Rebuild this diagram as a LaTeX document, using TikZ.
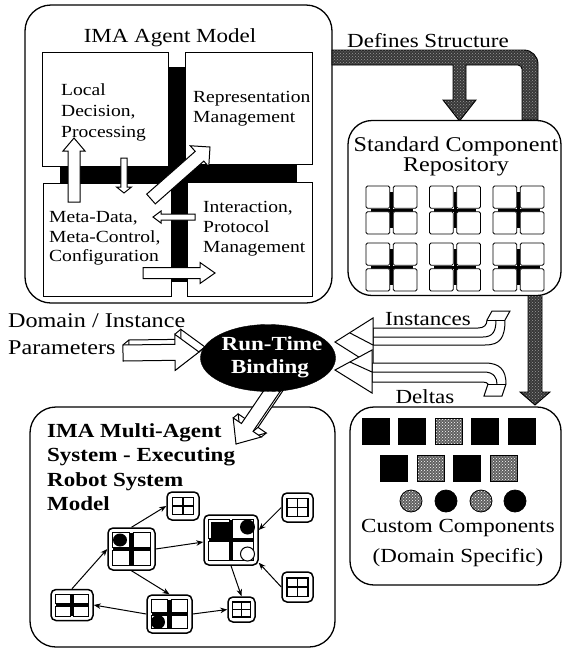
\documentclass[tikz,border=0pt]{standalone}
\usepackage{fontspec}
\setmainfont{Liberation Serif}[FakeStretch=1.15]
\usetikzlibrary{calc,arrows.meta,patterns,shapes.geometric}

\tikzset{
  frame/.style={draw, line width=1.3pt, rounded corners=26pt, inner sep=0pt},
  panel/.style={draw, fill=white, line width=1pt, inner sep=0pt},
  blk/.style={draw, fill=white, line width=1pt, line join=miter},
  thin3d/.style={line width=1pt},
  band/.style={draw, line width=0.9pt, preaction={fill=black!78}, pattern=crosshatch dots, pattern color=black!40},
  lbl/.style={inner sep=0pt, font=\fontsize{20}{21}\selectfont},
  biglbl/.style={inner sep=0pt, font=\fontsize{21}{22}\selectfont},
  paramlbl/.style={inner sep=0pt, align=left, anchor=north west, font=\fontsize{21}{27}\selectfont},
  smalll/.style={inner sep=0pt, align=left, anchor=north west, font=\fontsize{17}{20}\selectfont},
  boldl/.style={inner sep=0pt, align=left, anchor=north west, font=\fontsize{20}{24.5}\selectfont\bfseries},
  agentbox/.style={draw, fill=white, line width=1.5pt, rounded corners=5pt, inner sep=0pt},
  cell/.style={draw, fill=white, line width=0.8pt},
  chip/.style={draw, fill=black, line width=0.8pt},
  mottled/.style={draw, line width=0.8pt, preaction={fill=black!62}, pattern=crosshatch dots, pattern color=white},
  link/.style={line width=1pt, -{Stealth[length=7pt,width=5.5pt]}},
}

% corner points of a block arrow from #1 to the tip #2
\newcommand{\arrowpts}[5]{%
  \coordinate (q-a) at (#1);
  \coordinate (q-b) at (#2);
  \coordinate (q-h) at ($(q-b)!#5!(q-a)$);
  \coordinate (q1) at ($(q-a)!#3!90:(q-b)$);
  \coordinate (q2) at ($(q-h)!#3!90:(q-b)$);
  \coordinate (q3) at ($(q-h)!#4!90:(q-b)$);
  \coordinate (q5) at ($(q-h)!#4!-90:(q-b)$);
  \coordinate (q6) at ($(q-h)!#3!-90:(q-b)$);
  \coordinate (q7) at ($(q-a)!#3!-90:(q-b)$);
}
\newcommand{\flatarrow}[5]{%
  \arrowpts{#1}{#2}{#3}{#4}{#5}
  \draw[blk] (q1) -- (q2) -- (q3) -- (q-b) -- (q5) -- (q6) -- (q7) -- cycle;
}
% block arrow with a visible depth (#6, #7 = offset of the back face)
\newcommand{\solidarrow}[7]{%
  \arrowpts{#1}{#2}{#3}{#4}{#5}
  \draw[blk, transform canvas={xshift=#6, yshift=#7}] (q1) -- (q2) -- (q3) -- (q-b) -- (q5) -- (q6) -- (q7) -- cycle;
  \foreach \c in {q1,q2,q3,q-b,q5,q6,q7}
    {\draw[thin3d] (\c) -- ([xshift=#6, yshift=#7]\c);}
  \draw[blk] (q1) -- (q2) -- (q3) -- (q-b) -- (q5) -- (q6) -- (q7) -- cycle;
}
% agent with four cells
\newcommand{\quadnode}[5]{%
  \node[agentbox, minimum width=#4pt, minimum height=#5pt] (#1) at (#2,#3) {};
  \pgfmathsetmacro{\qx}{#4/2-4.5}
  \pgfmathsetmacro{\qy}{#5/2-4.5}
  \draw[line width=3pt] ({#2-\qx},#3) -- ({#2+\qx},#3) (#2,{#3-\qy}) -- (#2,{#3+\qy});
  \draw[cell] ({#2-\qx},{#3-\qy}) rectangle ({#2-1.8},{#3-1.8});
  \draw[cell] ({#2+1.8},{#3-\qy}) rectangle ({#2+\qx},{#3-1.8});
  \draw[cell] ({#2-\qx},{#3+1.8}) rectangle ({#2-1.8},{#3+\qy});
  \draw[cell] ({#2+1.8},{#3+1.8}) rectangle ({#2+\qx},{#3+\qy});
}
% small agent with a grid glyph
\newcommand{\mininode}[5]{%
  \node[agentbox, minimum width=#4pt, minimum height=#5pt] (#1) at (#2,#3) {};
  \pgfmathsetmacro{\qx}{#4*0.33}
  \pgfmathsetmacro{\qy}{#5*0.31}
  \draw[line width=1.6pt] ({#2-\qx},{#3-\qy}) rectangle ({#2+\qx},{#3+\qy})
     ({#2-\qx},#3) -- ({#2+\qx},#3) (#2,{#3-\qy}) -- (#2,{#3+\qy});
}
% standard component glyph
\newcommand{\repoicon}[2]{%
  \draw[line width=3pt] ({#1-21},#2) -- ({#1+21},#2) (#1,{#2-18}) -- (#1,{#2+18});
  \foreach \sx/\sy in {-1/-1,1/-1,-1/1,1/1}
    {\draw[cell, rounded corners=1.5pt] ({#1+\sx*1.7},{#2+\sy*1.7}) rectangle ({#1+\sx*25.5},{#2+\sy*24});}
}

\begin{document}
\begin{tikzpicture}[x=1pt,y=-1pt]
\useasboundingbox (0,0) rectangle (563,649);

% ---------------- agent model ----------------
\node[frame, minimum width=307pt, minimum height=298pt] (agent) at (178.5,154) {};
\node[lbl, anchor=base] (agenttitle) at (170,42) {IMA Agent Model};

\fill (168,67) rectangle (187,282);
\fill (60,165) rectangle (297,183);

\node[panel, minimum width=126pt, minimum height=114pt] (decide) at (105,109) {};
\node[panel, minimum width=127pt, minimum height=112pt] (repr) at (248.5,108) {};
\node[panel, minimum width=128pt, minimum height=113pt] (meta) at (107,239.5) {};
\node[panel, minimum width=125pt, minimum height=114pt] (inter) at (249.5,239) {};

\node[smalll, font=\fontsize{17}{21}\selectfont] (decidetxt) at (61,83.4) {Local\\Decision,\\Processing};
\node[smalll] (reprtxt) at (193,91.4) {Representation\\Management};
\node[smalll, font=\fontsize{17}{19.5}\selectfont] (metatxt) at (49,211.4) {Meta-Data,\\Meta-Control,\\Configuration};
\node[smalll] (intertxt) at (203,201.4) {Interaction,\\Protocol\\Management};

\flatarrow{74,202}{74,138}{6pt}{11pt}{13pt}
\flatarrow{124,158}{124,193}{3.2pt}{7.5pt}{6pt}
\flatarrow{151,199}{210,147}{6.5pt}{14pt}{14pt}
\flatarrow{195,217}{153,217}{3pt}{6pt}{8pt}
\flatarrow{143,273}{215,273}{5.5pt}{10.5pt}{15pt}

% ---------------- structure band ----------------
\draw[band] (332,50) -- (520,50) {[rounded corners=14pt] -- (538,50) -- (538,80)} -- (538,120)
  -- (522,120) {[rounded corners=4pt] -- (522,65) -- (500,65)} -- (466,65) -- (466,100) -- (476,100)
  -- (459.5,121) -- (443,100) -- (453,100) -- (453,65) -- (332,65) -- cycle;
\node[lbl, anchor=base] (definestxt) at (428,47) {Defines Structure};

% ---------------- standard repository ----------------
\node[frame, fill=white, rounded corners=24pt, minimum width=213pt, minimum height=175pt] (repo) at (454.5,208) {};
\node[biglbl, anchor=base] (repotxt1) at (456,151) {Standard Component};
\node[biglbl, anchor=base] (repotxt2) at (456,171) {Repository};
\foreach \cx in {391.5,455,518.5}{
  \foreach \cy in {210,267}{
    \repoicon{\cx}{\cy}
  }
}

\draw[band] (528,296) -- (528,392) -- (520,392) -- (535,405) -- (550,392) -- (542,392) -- (542,296);

% ---------------- custom components ----------------
\node[frame, rounded corners=24pt, minimum width=211pt, minimum height=178pt] (custom) at (455.5,496) {};
\foreach \x/\s in {362/chip,398/chip,435/mottled,471/chip,508/chip}
  {\draw[\s] (\x,418) rectangle ++(27,26);}
\foreach \x/\s in {380/chip,417/mottled,453/chip,490/mottled}
  {\draw[\s] (\x,455) rectangle ++(27,26);}
\foreach \x/\s in {411/mottled,446/chip,481/mottled,515/chip}
  {\draw[\s] (\x,501) circle (11);}
\node[lbl, anchor=base] (customtxt1) at (458,532) {Custom Components};
\node[lbl, anchor=base] (customtxt2) at (458,562) {(Domain Specific)};

% ---------------- multi-agent system ----------------
\node[frame, minimum width=305pt, minimum height=240pt] (mas) at (182.5,527) {};
\node[boldl] (mastxt) at (47,423.4) {IMA Multi-Agent\\System - Executing\\Robot System\\Model};

\mininode{ua}{183}{506}{32}{28}
\quadnode{la}{131.5}{549}{47}{42}
\quadnode{ca}{231}{540}{54}{50}
\quadnode{fa}{72}{605}{42}{31}
\quadnode{ma}{169.5}{614}{45}{38}
\mininode{sa}{241.5}{609.5}{27}{25}
\mininode{ra}{297.5}{507.5}{31}{29}
\mininode{qa}{297.5}{587}{31}{30}

\fill (120,540) ellipse (7 and 6.5);
\fill (210.5,521.5) rectangle (228.6,537.6);
\fill (247.5,527) circle (7.5);
\draw[cell, line width=1pt] (247.5,554) circle (7);
\fill (158,622) circle (7);

\draw[link] (la.north) -- (ua.west);
\draw[link] (fa.north) -- (la.west);
\draw[link] (la.east) -- ($(ca.west)+(0,2)$);
\draw[link] (la.south) -- (ma.north);
\draw[link] (ma.west) -- (fa.east);
\draw[link] (ma.east) -- (sa.west);
\draw[link] (ca.south) -- (sa.north);
\draw[link] (ra.west) -- ($(ca.east)+(0,-10)$);
\draw[link] (qa.west) -- ($(ca.south east)+(0,-3)$);

% ---------------- instances and deltas ----------------
\draw[blk] (373,345) -- (485,345) .. controls (500,345) and (505,338) .. (505,320)
  -- (510,311) -- (492,311) -- (487,320) .. controls (487,325) and (484,328) .. (478,328)
  -- (373,328) -- cycle;
\draw[thin3d] (487,320) -- (505,320);
\draw[thin3d] (373,337) -- (483,337) .. controls (493,337) and (496,331) .. (496,320);
\draw[blk] (335,342) -- (373,318) -- (373,366) -- cycle;
\draw[thin3d] (350,333) -- (373,345);
\node[lbl, anchor=base] (insttxt) at (428,325) {Instances};

\draw[blk] (372,363) -- (485,363) .. controls (500,363) and (506,370) .. (506,384)
  -- (502,396) -- (484,396) -- (488,384) .. controls (488,383) and (486,382) .. (480,382)
  -- (372,382) -- cycle;
\draw[thin3d] (488,384) -- (506,384);
\draw[thin3d] (372,372) -- (484,372) .. controls (494,372) and (497,378) .. (497,384);
\draw[blk] (335,370) -- (372,350) -- (372,393) -- cycle;
\draw[thin3d] (350,362) -- (372,372);
\node[lbl, anchor=base] (deltatxt) at (425,403) {Deltas};

% ---------------- parameters and binding ----------------
\node[paramlbl] (paramtxt) at (8,313.4) {Domain / Instance\\Parameters};
\solidarrow{123,353}{199,352}{8pt}{18pt}{24pt}{6pt}{5pt}
\solidarrow{274,388}{236,444}{7pt}{17pt}{20pt}{5pt}{4pt}

\node[ellipse, fill=black, draw, inner sep=0pt, minimum width=135pt, minimum height=67pt] (bind) at (268,358) {};
\node[lbl, font=\fontsize{20}{21}\selectfont\bfseries, text=white, anchor=base] (bindtxt1) at (272,350) {Run-Time};
\node[lbl, font=\fontsize{20}{21}\selectfont\bfseries, text=white, anchor=base] (bindtxt2) at (270,373) {Binding};
\end{tikzpicture}
\end{document}
